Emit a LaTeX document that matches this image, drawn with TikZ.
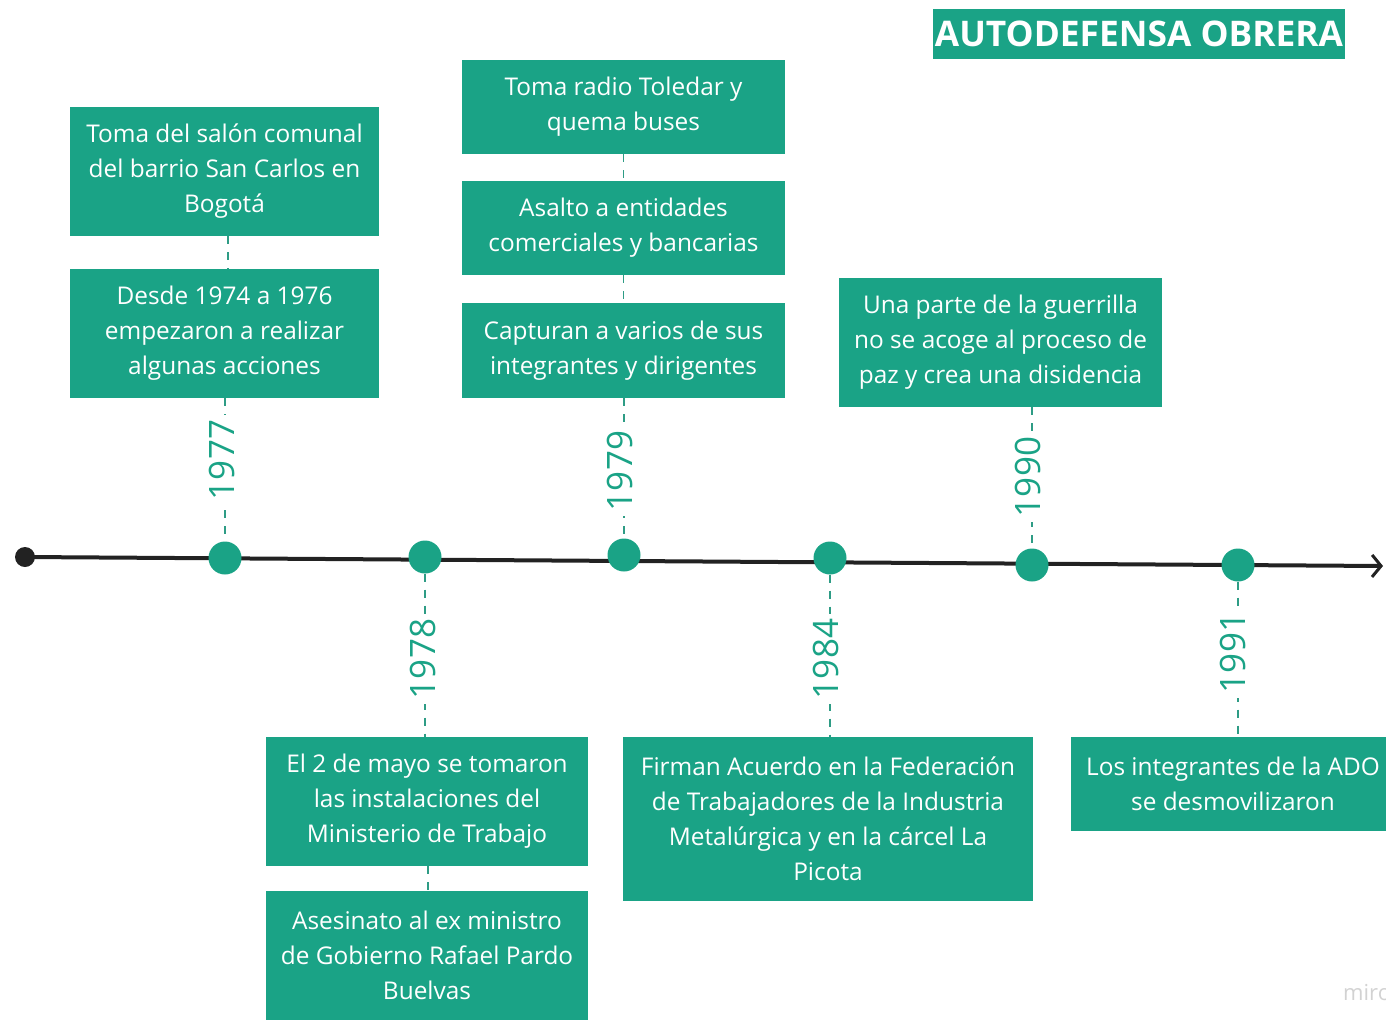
\documentclass[tikz,border=0pt]{standalone}
\usepackage{fontspec}
\setmainfont{Open Sans}
\usetikzlibrary{arrows.meta}
\definecolor{mirogreen}{HTML}{1AA386}
\definecolor{axisdark}{HTML}{222222}
\begin{document}
\begin{tikzpicture}[x=1pt,y=-1pt,
  evbox/.style={fill=mirogreen, text=white, align=center, inner sep=0pt,
    font=\fontsize{24.4}{35}\selectfont},
  yearlbl/.style={text=mirogreen, fill=white, inner sep=5pt, rotate=90,
    font=\fontsize{35}{35}\selectfont},
  evdot/.style={circle, fill=mirogreen, minimum size=33pt, inner sep=0pt},
  conn/.style={draw=mirogreen!80!gray, line width=1.5pt, dash pattern=on 8pt off 8pt},
  axis/.style={draw=axisdark, line width=4pt}]
\useasboundingbox (0,0) rectangle (1386,1020);
\clip (0,0) rectangle (1386,1020);

% title
\node[fill=mirogreen, text=white, minimum width=412pt, minimum height=50pt, inner sep=0pt,
  font=\fontsize{35.3}{35.3}\selectfont\bfseries] (title) at (1139,34) {AUTODEFENSA OBRERA};

% axis
\node[circle, fill=axisdark, minimum size=20pt, inner sep=0pt] (start) at (25,557) {};
\coordinate (end) at (1383,566);
\draw[axis, -{Straight Barb[length=9pt,width=22pt,line width=3pt]}] (start.center) -- (end);

% dots
\node[evdot] (d77) at (225,558) {};
\node[evdot] (d78) at (425,557) {};
\node[evdot] (d79) at (624,555) {};
\node[evdot] (d84) at (830,558) {};
\node[evdot] (d90) at (1032,565) {};
\node[evdot] (d91) at (1238,565) {};

% boxes top
\node[evbox, minimum width=309pt, minimum height=129pt] (a1) at (224.5,171.5)
  {Toma del salón comunal\\del barrio San Carlos en\\Bogotá};
\node[evbox, minimum width=309pt, minimum height=129pt] (a2) at (224.5,333.5)
  {Desde 1974 a 1976\\empezaron a realizar\\algunas acciones};
\node[evbox, minimum width=323pt, minimum height=94pt] (b1) at (623.5,107)
  {Toma radio Toledar y\\quema buses};
\node[evbox, minimum width=323pt, minimum height=94pt] (b2) at (623.5,228)
  {Asalto a entidades\\comerciales y bancarias};
\node[evbox, minimum width=323pt, minimum height=95pt] (b3) at (623.5,350.5)
  {Capturan a varios de sus\\integrantes y dirigentes};
\node[evbox, minimum width=323pt, minimum height=129pt] (c1) at (1000.5,342.5)
  {Una parte de la guerrilla\\no se acoge al proceso de\\paz y crea una disidencia};

% boxes bottom
\node[evbox, minimum width=322pt, minimum height=129pt] (e1) at (427,801.5)
  {El 2 de mayo se tomaron\\las instalaciones del\\Ministerio de Trabajo};
\node[evbox, minimum width=322pt, minimum height=129pt] (e2) at (427,955.5)
  {Asesinato al ex ministro\\de Gobierno Rafael Pardo\\Buelvas};
\node[evbox, minimum width=410pt, minimum height=164pt] (f1) at (828,819)
  {Firman Acuerdo en la Federación\\de Trabajadores de la Industria\\Metalúrgica y en la cárcel La\\Picota};
\node[evbox, minimum width=324pt, minimum height=94pt] (g1) at (1233,784)
  {Los integrantes de la ADO\\se desmovilizaron};

% connectors
\draw[conn] (a1.south -| 228,0) -- (a2.north -| 228,0);
\draw[conn] (a2.south -| d77) -- (d77);
\draw[conn] (b1.south) -- (b2.north);
\draw[conn] (b2.south) -- (b3.north);
\draw[conn] (b3.south -| d79) -- (d79);
\draw[conn] (c1.south -| d90) -- (d90);
\draw[conn] (d78) -- (d78 |- e1.north);
\draw[conn] (e1.south -| 428,0) -- (e2.north -| 428,0);
\draw[conn] (d84) -- (d84 |- f1.north);
\draw[conn] (d91) -- (d91 |- g1.north);

% year labels
\node[yearlbl] (y77) at (222,460) {1977};
\node[yearlbl] (y78) at (423,659) {1978};
\node[yearlbl] (y79) at (620,471) {1979};
\node[yearlbl] (y84) at (826,659) {1984};
\node[yearlbl] (y90) at (1028,477) {1990};
\node[yearlbl] (y91) at (1233,653) {1991};

% watermark
\node[anchor=west, text=gray!35, inner sep=0pt, font=\fontsize{22}{22}\selectfont] (wm) at (1343,993) {miro};
\end{tikzpicture}
\end{document}
